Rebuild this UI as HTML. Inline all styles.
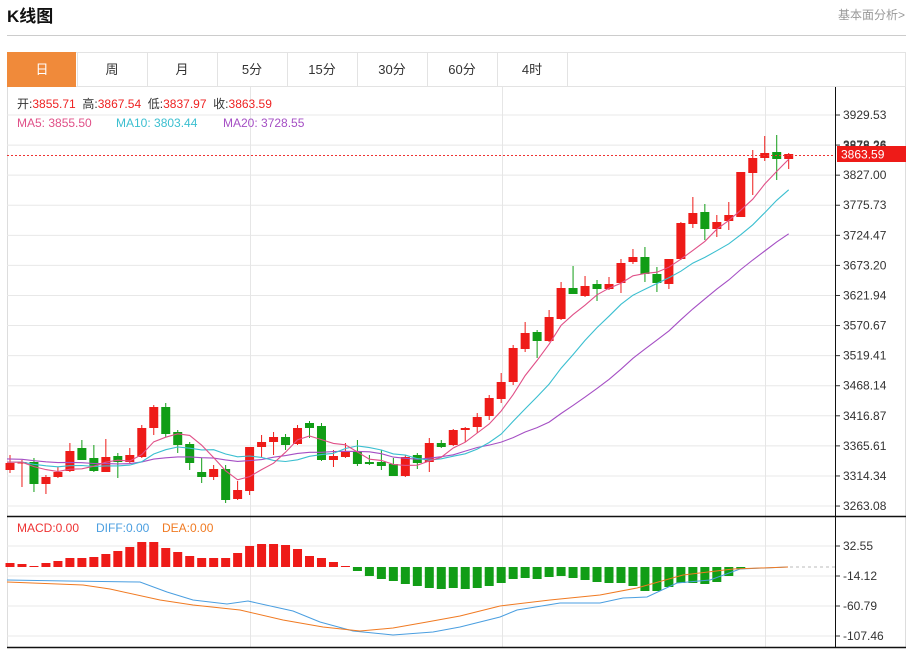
<!DOCTYPE html>
<html><head><meta charset="utf-8"><style>
html,body{margin:0;padding:0;background:#fff;width:911px;height:649px;overflow:hidden;font-family:"Liberation Sans","Noto Sans CJK SC",sans-serif}
</style></head><body>
<svg id="s" width="911" height="649" xmlns="http://www.w3.org/2000/svg" style="position:absolute;left:0;top:0">
<text x="7" y="22" font-size="17" font-weight="bold" fill="#111" font-family="Liberation Sans,Noto Sans CJK SC,sans-serif">K线图</text>
<text x="905" y="19" font-size="12" fill="#999" text-anchor="end" font-family="Liberation Sans,Noto Sans CJK SC,sans-serif">基本面分析&gt;</text>
<line x1="7" y1="35.5" x2="906" y2="35.5" stroke="#ccc"/>
<rect x="7.5" y="52.5" width="898" height="34" fill="#fff" stroke="#e3e3e3"/>
<rect x="7" y="52" width="69" height="35" fill="#f08a3a"/>
<g id="tabs" font-size="13" text-anchor="middle" fill="#333" font-family="Liberation Sans,Noto Sans CJK SC,sans-serif"></g>
<g id="chart"></g>
</svg>
<script>
var NS="http://www.w3.org/2000/svg",C=document.getElementById('chart');
function el(t,a,p){var e=document.createElementNS(NS,t);for(var k in a)e.setAttribute(k,a[k]);(p||C).appendChild(e);return e;}
function tx(x,y,s,a){var e=el('text',Object.assign({x:x,y:y,'font-family':'Liberation Sans,Noto Sans CJK SC,sans-serif'},a));e.textContent=s;return e;}
var T=document.getElementById('tabs'),tl=['日','周','月','5分','15分','30分','60分','4时'];
for(var i=0;i<8;i++){var x0=7+i*70;if(i>0)el('line',{x1:x0+.5,y1:52,x2:x0+.5,y2:87,stroke:'#e3e3e3'});var t=el('text',{x:x0+35,y:74,fill:i==0?'#fff':'#333'},T);t.textContent=tl[i];}
el('line',{x1:567.5,y1:52,x2:567.5,y2:87,stroke:'#e3e3e3'});
// frame
el('line',{x1:7.5,y1:87,x2:7.5,y2:648,stroke:'#ddd'});
el('line',{x1:905.5,y1:87,x2:905.5,y2:648,stroke:'#ddd'});
// grids
var pt=['3929.53','3878.26','3827.00','3775.73','3724.47','3673.20','3621.94','3570.67','3519.41','3468.14','3416.87','3365.61','3314.34','3263.08'];
for(var i=0;i<14;i++){var y=115+i*30.08;el('line',{x1:7,y1:y,x2:835,y2:y,stroke:'#e8e8e8'});el('line',{x1:835,y1:y,x2:840,y2:y,stroke:'#333'});tx(843,y+4,pt[i],{'font-size':12,fill:'#333'});}
var mt=['32.55','-14.12','-60.79','-107.46'];
for(var i=0;i<4;i++){var y=546+i*30;el('line',{x1:7,y1:y,x2:835,y2:y,stroke:'#e8e8e8'});el('line',{x1:835,y1:y,x2:840,y2:y,stroke:'#333'});tx(843,y+4,mt[i],{'font-size':12,fill:'#333'});}
[250,502,765].forEach(function(x){el('line',{x1:x+.5,y1:87,x2:x+.5,y2:648,stroke:'#e6e6e6'});});
// candles [x-index, o/c top, bottom, high, low, up?]
var D=[[463,470,455,473,1],[462,463,460,487,1],[462,484,458,492,0],[477,484,475,494,1],[472,477,467,478,1],[451,471,443,472,1],[448,460,440,460,0],[458,471,445,472,0],[457,472,439,472,1],[456,462,453,478,0],[455,462,448,463,1],[428,457,425,458,1],[407,428,405,435,1],[407,434,403,437,0],[432,445,430,453,0],[444,463,442,470,0],[472,477,458,483,0],[469,477,465,480,1],[469,500,465,503,0],[490,499,481,500,1],[447,491,447,495,1],[442,447,435,457,1],[437,442,432,455,1],[437,445,434,450,0],[428,444,425,445,1],[423,428,421,438,0],[426,460,423,461,0],[456,460,450,467,1],[452,457,443,458,1],[451,464,440,466,0],[462,464,455,465,0],[462,466,450,470,0],[464,476,458,476,0],[457,476,455,477,1],[455,463,453,469,0],[443,462,438,472,1],[443,447,440,448,0],[430,445,429,446,1],[428,430,427,442,1],[417,427,413,433,1],[398,416,395,420,1],[382,399,373,403,1],[348,382,345,385,1],[333,349,322,352,1],[332,341,330,358,0],[317,341,310,342,1],[288,319,282,320,1],[288,294,266,294,0],[286,296,276,297,1],[284,289,280,301,0],[284,289,277,290,1],[263,283,259,293,1],[257,262,249,264,1],[257,274,247,282,0],[274,283,267,292,0],[259,284,259,289,1],[223,259,222,260,1],[213,224,197,228,1],[212,229,204,240,0],[222,229,215,237,1],[215,221,202,230,1],[172,217,172,217,1],[158,173,150,195,1],[153,158,136,161,1],[152,159,135,180,0],[154,159,153,169,1]];
var RED='#ee1b18',GRN='#119d16';
function X(i){return 10+i*11.98;}
var cl=[];for(var i=0;i<25;i++)cl.push(i<15?455:462);
D.forEach(function(d){cl.push(d[4]?d[0]:d[1]);});
function ma(n,col){var p=[];for(var i=0;i<D.length;i++){var k=i+25,s=0;for(var j=0;j<n;j++)s+=cl[k-j];p.push((i==0?7:X(i))+','+(s/n).toFixed(1));}el('polyline',{points:p.join(' '),fill:'none',stroke:col,'stroke-width':1.1});}
D.forEach(function(d,i){var x=X(i),c=d[4]?RED:GRN;el('line',{x1:x,y1:d[2],x2:x,y2:d[3],stroke:c});el('rect',{x:x-4.5,y:d[0],width:9,height:Math.max(1.5,d[1]-d[0]),fill:c});});
ma(20,'#a54fc4');ma(10,'#3bbfd0');ma(5,'#e05088');
// price line
el('line',{x1:7,y1:155.5,x2:835,y2:155.5,stroke:'#e33',"stroke-dasharray":'2,2'});
tx(843,150,'3878.26',{'font-size':12,fill:'#333'});
el('rect',{x:837,y:146,width:69,height:16,fill:'#ee1b18'});
tx(841,158.5,'3863.59',{'font-size':12,fill:'#fff'});
// legend
var g=tx(17,108,'',{'font-size':12});
[['开:','#333'],['3855.71  ','#e22'],['高:','#333'],['3867.54  ','#e22'],['低:','#333'],['3837.97  ','#e22'],['收:','#333'],['3863.59','#e22']].forEach(function(a){var s=el('tspan',{fill:a[1]},g);s.textContent=a[0];});
g.setAttribute('xml:space','preserve');g.style.whiteSpace='pre';
tx(17,127,'MA5: 3855.50',{'font-size':12,fill:'#e05088'});tx(116,127,'MA10: 3803.44',{'font-size':12,fill:'#3bbfd0'});tx(223,127,'MA20: 3728.55',{'font-size':12,fill:'#a54fc4'});
// MACD
var M=[563,564,566,563,561,558,558,557,554,551,547,542,542,548,552,556,558,558,558,553,546,544,544,545,549,556,558,562,566,571,576,579,581,584,586,588,589,588,589,588,586,583,579,578,579,577,576,578,580,582,583,583,586,591,591,587,583,583,584,582,576,569,567.5,567.5,567.5,567.5];
M.forEach(function(v,i){var x=X(i);var y0=Math.min(v,567),h=Math.abs(v-567);if(h<1)return;el('rect',{x:x-4.5,y:y0,width:9,height:h,fill:v<567?RED:GRN});});
el('line',{x1:790,y1:567,x2:835,y2:567,stroke:'#bbb','stroke-dasharray':'3,3'});
el('polyline',{points:'7,580 67,581 140,582 167,592 193,600 227,604 248,601 293,611 320,622 353,631 393,635 433,632 460,627 500,617 517,610 560,603 600,603 623,598 647,597 677,583 710,580 740,569 788,567',fill:'none',stroke:'#4a9ee0','stroke-width':1});
el('polyline',{points:'7,582 83,585 110,589 160,600 193,605 240,610 283,620 323,627 360,631 393,628 427,622 460,616 500,606 550,600 600,595 637,588 683,575 733,569 788,567',fill:'none',stroke:'#f07a22','stroke-width':1});
tx(17,532,'MACD:0.00',{'font-size':12,fill:'#e33'});tx(96,532,'DIFF:0.00',{'font-size':12,fill:'#4a9ee0'});tx(162,532,'DEA:0.00',{'font-size':12,fill:'#f07a22'});
// axes
el('line',{x1:835.5,y1:87,x2:835.5,y2:648,stroke:'#111'});
el('line',{x1:7,y1:516.5,x2:906,y2:516.5,stroke:'#111','stroke-width':1.5});
el('line',{x1:7,y1:647.5,x2:906,y2:647.5,stroke:'#111','stroke-width':1.5});
</script>
</body></html>
